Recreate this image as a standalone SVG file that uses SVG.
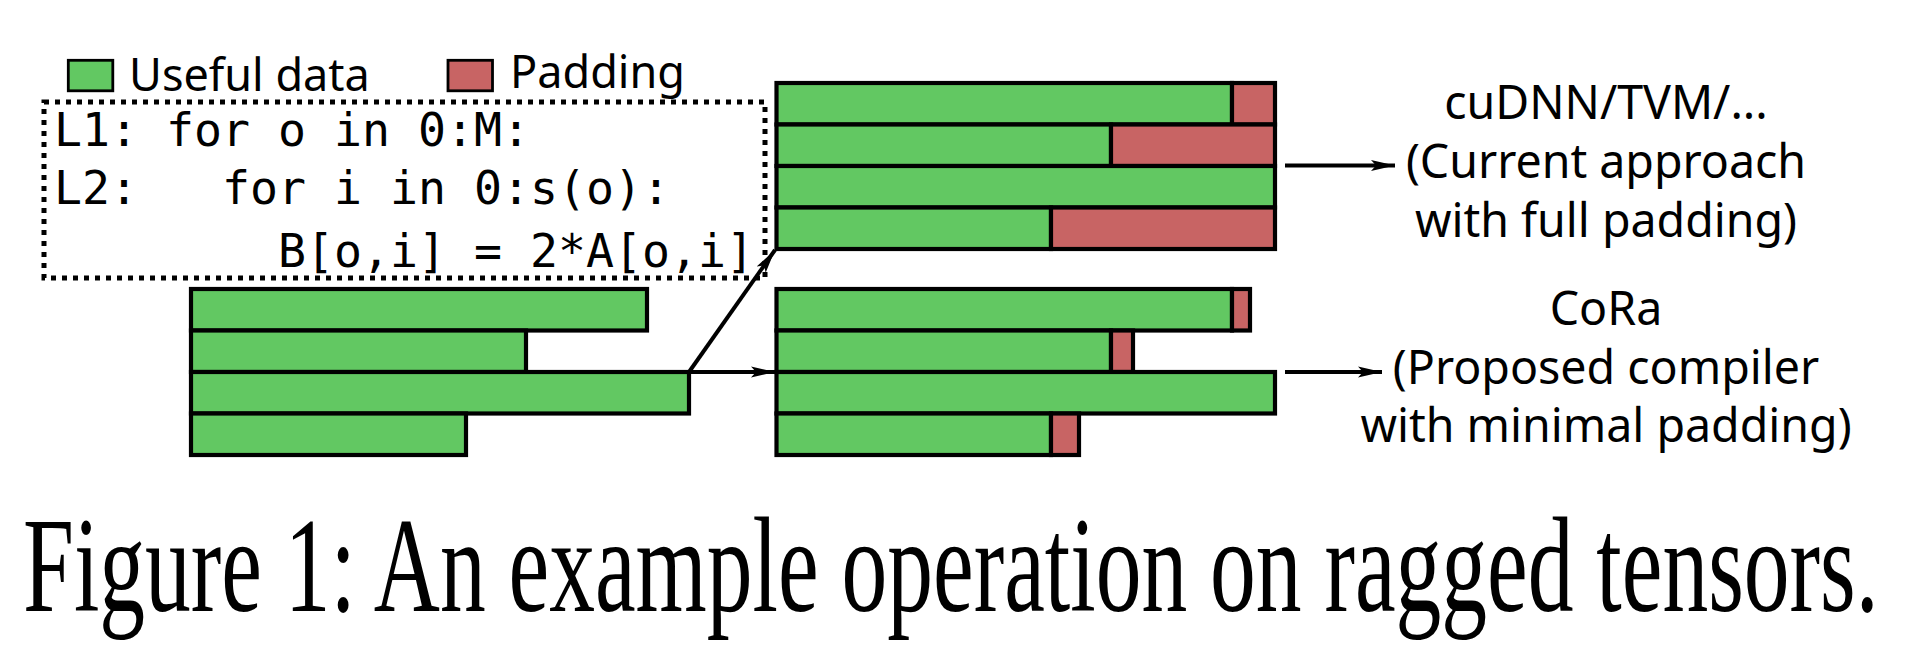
<svg xmlns="http://www.w3.org/2000/svg" width="1917" height="657" viewBox="0 0 1917 657">
<style>
.g{fill:#62c862;stroke:#000;stroke-width:4.2}
.r{fill:#c86464;stroke:#000;stroke-width:4.2}
.lg{stroke:#000;stroke-width:2.8}
.lbl{font-family:"Noto Sans",sans-serif;font-size:46.5px;fill:#000;text-anchor:middle}
.leg{font-family:"Noto Sans",sans-serif;font-size:45px;fill:#000}
.code{font-family:"DejaVu Sans Mono",monospace;font-size:46.5px;fill:#000}
.cap{font-family:"Liberation Serif",serif;font-size:135px;fill:#000}
.conn{stroke:#000;stroke-width:4;fill:none;marker-end:url(#ah)}
</style>
<defs>
<marker id="ah" markerUnits="userSpaceOnUse" markerWidth="26" markerHeight="14" refX="24" refY="6" orient="auto" viewBox="0 0 26 12">
<path d="M0,0.5 L24,6 L0,11.5 L5,6 Z" fill="#000"/>
</marker>
</defs>
<rect width="1917" height="657" fill="#fff"/>

<g id="legend">
<rect class="g lg" x="68.3" y="60.3" width="44.5" height="30.5"/>
<text class="leg" x="129" y="90.5">Useful data</text>
<rect class="r lg" x="448" y="60.3" width="44.5" height="30.5"/>
<text class="leg" x="510" y="87.5">Padding</text>
</g>

<g id="code">
<rect x="44" y="102" width="721" height="176" fill="none" stroke="#000" stroke-width="5" stroke-dasharray="5 6"/>
<text class="code" x="54" y="145.5">L1: for o in 0:M:</text>
<text class="code" x="54" y="204.3">L2:</text>
<text class="code" x="222" y="204.3">for i in 0:s(o):</text>
<text class="code" x="278" y="266.5">B[o,i] = 2*A[o,i]</text>
</g>

<g id="input-tensor">
<rect class="g" x="191" y="289" width="456" height="41.5"/>
<rect class="g" x="191" y="330.5" width="335" height="41.5"/>
<rect class="g" x="191" y="372" width="498" height="41.5"/>
<rect class="g" x="191" y="413.5" width="275" height="41.5"/>
</g>

<g id="full-padding">
<rect class="g" x="776.5" y="83" width="455.5" height="41.5"/>
<rect class="r" x="1232" y="83" width="43" height="41.5"/>
<rect class="g" x="776.5" y="124.5" width="334.5" height="41.5"/>
<rect class="r" x="1111" y="124.5" width="164" height="41.5"/>
<rect class="g" x="776.5" y="166" width="498.5" height="41.5"/>
<rect class="g" x="776.5" y="207.5" width="274.5" height="41.5"/>
<rect class="r" x="1051" y="207.5" width="224" height="41.5"/>
</g>

<g id="minimal-padding">
<rect class="g" x="776.5" y="289" width="455.5" height="41.5"/>
<rect class="r" x="1232" y="289" width="18" height="41.5"/>
<rect class="g" x="776.5" y="330.5" width="334.5" height="41.5"/>
<rect class="r" x="1111" y="330.5" width="22" height="41.5"/>
<rect class="g" x="776.5" y="372" width="498.5" height="41.5"/>
<rect class="g" x="776.5" y="413.5" width="274.5" height="41.5"/>
<rect class="r" x="1051" y="413.5" width="28" height="41.5"/>
</g>

<g id="connectors">
<line class="conn" x1="689" y1="372" x2="775" y2="372"/>
<line class="conn" x1="689" y1="372" x2="775" y2="250"/>
<line class="conn" x1="1285" y1="165.5" x2="1395" y2="165.5"/>
<line class="conn" x1="1285" y1="372" x2="1382" y2="372"/>
</g>

<g id="label-current">
<text class="lbl" x="1606" y="119">cuDNN/TVM/...</text>
<text class="lbl" x="1606" y="177.5">(Current approach</text>
<text class="lbl" x="1606" y="236.5">with full padding)</text>
</g>

<g id="label-cora">
<text class="lbl" x="1606" y="324.5">CoRa</text>
<text class="lbl" x="1606" y="383.5">(Proposed compiler</text>
<text class="lbl" x="1606" y="441.5">with minimal padding)</text>
</g>

<text class="cap" transform="translate(23,611) scale(0.678,1)" x="0" y="0">Figure 1: An example operation on ragged tensors.</text>
</svg>
